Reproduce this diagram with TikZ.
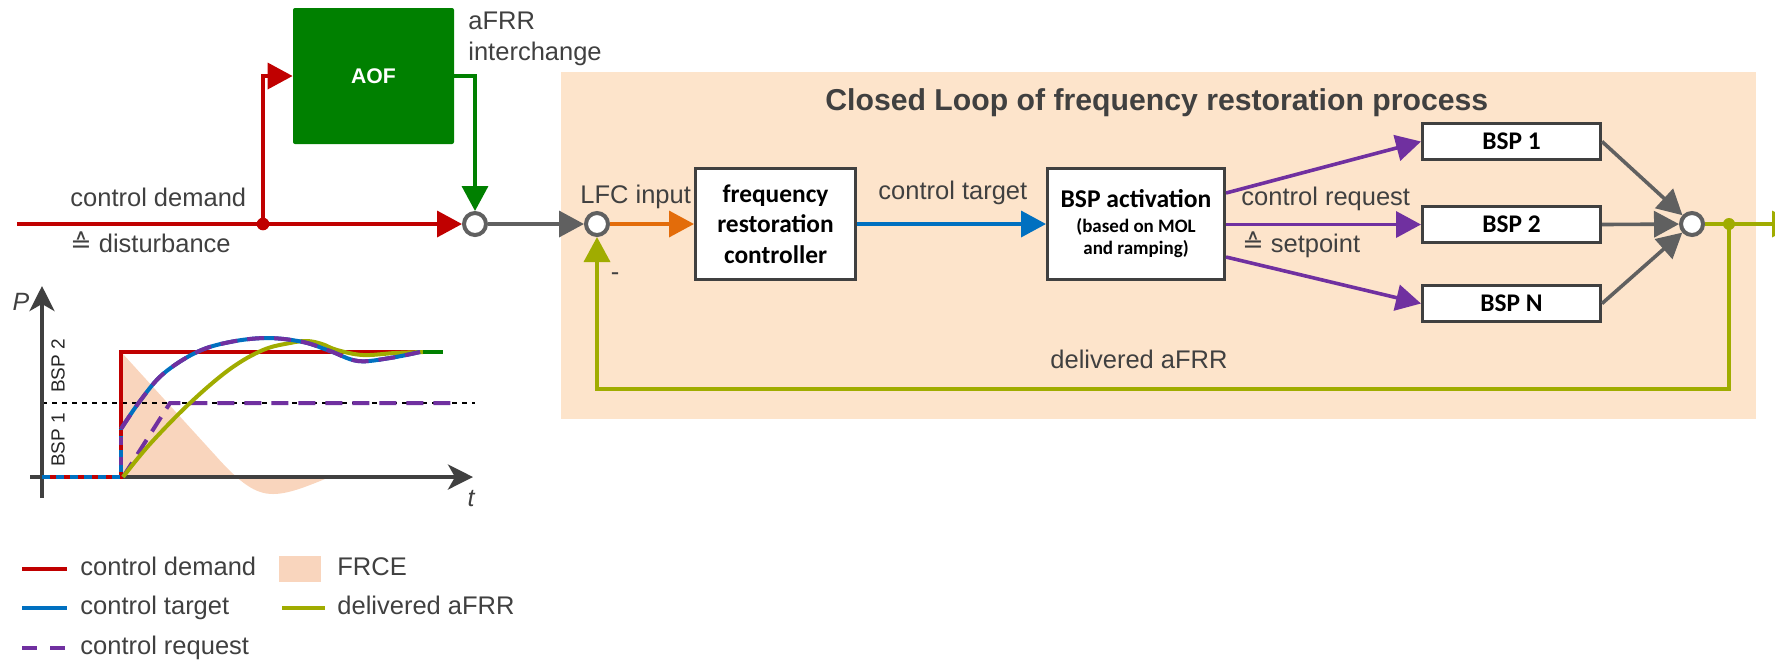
\documentclass[tikz,border=0pt]{standalone}
\usepackage{fontspec}
\setmainfont{Liberation Sans}
\newfontfamily\calibrifont{Carlito}
\newfontfamily\djvfont{DejaVu Sans}
\usetikzlibrary{arrows.meta}
\definecolor{cred}{RGB}{192,0,0}
\definecolor{cgreen}{RGB}{0,128,0}
\definecolor{cgray}{RGB}{96,96,96}
\definecolor{corange}{RGB}{227,108,10}
\definecolor{cblue}{RGB}{0,112,192}
\definecolor{cpurple}{RGB}{112,48,160}
\definecolor{colive}{RGB}{160,172,0}
\definecolor{cbg}{RGB}{253,228,203}
\definecolor{cfrce}{RGB}{249,213,189}
\definecolor{ctxt}{RGB}{64,64,64}
\definecolor{cbox}{RGB}{64,64,64}
\tikzset{
  lbl/.style={font=\fontsize{12.75}{15.5}\selectfont, text=ctxt, inner sep=0pt},
  ttl/.style={font=\bfseries\fontsize{15.1}{18}\selectfont, text=ctxt, inner sep=0pt},
  blk/.style={draw=cbox, line width=1.7pt, fill=white, inner sep=0pt, align=center,
              font=\calibrifont\bfseries\fontsize{12.7}{15.25}\selectfont},
  bspbox/.style={blk, minimum width=88.8pt, minimum height=17.8pt,
              font=\calibrifont\bfseries\fontsize{12.7}{15}\selectfont},
  aofbox/.style={fill=cgreen, rounded corners=1pt, minimum width=80.5pt, minimum height=68pt,
              inner sep=0pt, text=white, font=\bfseries\fontsize{10.6}{12}\selectfont},
  sumc/.style={circle, draw=cgray, line width=2pt, fill=white, minimum size=11pt, inner sep=0pt},
  jdot/.style={circle, minimum size=6.3pt, inner sep=0pt},
  arr/.style={-{Triangle[length=12.5pt,width=13pt]}},
  conn/.style={line width=1.8pt},
  redln/.style={conn, draw=cred, color=cred},
  grnln/.style={conn, color=cgreen},
  gryln/.style={conn, color=cgray},
  orgln/.style={conn, color=corange},
  bluln/.style={conn, color=cblue},
  purln/.style={conn, color=cpurple},
  olvln/.style={conn, color=colive},
  axisln/.style={line width=2pt, color=ctxt, -{Stealth[length=12.5pt,width=12.5pt,inset=3.5pt]}},
  crv/.style={line width=2pt},
  pdash/.style={line width=2pt, color=cpurple, dash pattern=on 8.5pt off 5pt},
}
\begin{document}
\begin{tikzpicture}[x=0.5pt,y=-0.5pt]
\useasboundingbox (0,0) rectangle (1775,661);

% ---------- closed loop background ----------
\fill[cbg] (561,72) rectangle (1756,419);
\node[ttl, anchor=base west] (title) at (825,110) {Closed Loop of frequency restoration process};

% ---------- nodes ----------
\node[aofbox] (aof) at (373.5,76) {AOF};
\node[sumc] (c1) at (475,224) {};
\node[sumc] (c2) at (597,224) {};
\node[sumc] (c3) at (1692,224) {};
\node[blk, minimum width=79.8pt, minimum height=55.3pt] (frc) at (775.5,224)
  {frequency\\restoration\\controller};
\node[blk, minimum width=88.3pt, minimum height=55.3pt,
      font=\calibrifont\bfseries\fontsize{9.5}{11}\selectfont] (act) at (1136,224)
  {{\fontsize{12.8}{12.5}\selectfont BSP activation}\\[1.5pt](based on MOL\\and ramping)};
\node[bspbox] (b1) at (1511.5,141.5) {BSP 1};
\node[bspbox] (b2) at (1511.5,224.5) {BSP 2};
\node[bspbox] (bn) at (1511.5,303.5) {BSP N};

% ---------- connectors ----------
\coordinate (src) at (17,224);
\coordinate (outR) at (1797,224);
\coordinate (fbR) at (1729,389);
\draw[redln] (src) -- (263,224);
\draw[redln, arr] (263,224) -- (c1);
\draw[redln, arr] (263,224) |- (aof.west);
\draw[grnln, arr] (aof.east) -| (c1.north);
\draw[gryln, arr] (c1) -- (c2);
\draw[orgln, arr] (c2) -- (frc);
\draw[bluln, arr] (frc) -- (act);
\draw[purln, arr] (act.east |- 0,193) -- (b1.west);
\draw[purln, arr] (act.east |- 0,224.5) -- (b2.west);
\draw[purln, arr] (act.east |- 0,257) -- (bn.west);
\draw[gryln, arr] (b1.east) -- (c3);
\draw[gryln, arr] (b2.east) -- (c3);
\draw[gryln, arr] (bn.east) -- (c3);
\draw[olvln, arr] (c3) -- (outR);
\draw[olvln, arr] (1729,224) -- (fbR) -| (c2.south);
\node[jdot, fill=cred] (j1) at (263,224) {};
\node[jdot, fill=colive, minimum size=6pt] (j2) at (1729,224) {};

% ---------- labels ----------
\node[lbl, anchor=base west] (lcd) at (70,206) {control demand};
\node[lbl, anchor=base west] (ldist) at (70,252) {{\djvfont ≙} disturbance};
\node[lbl, anchor=base west, align=left] (lafrr) at (468,60) {aFRR\\interchange};
\node[lbl, anchor=base west] (llfc) at (580,203) {LFC input};
\node[lbl] (lminus) at (615,277) {-};
\node[lbl, anchor=base west] (lct) at (878,199) {control target};
\node[lbl, anchor=base west] (lcr) at (1241,205) {control request};
\node[lbl, anchor=base west] (lsp) at (1242,252) {{\djvfont ≙} setpoint};
\node[lbl, anchor=base west] (lda) at (1050,368) {delivered aFRR};

% ---------- small chart ----------
\fill[cfrce] (123,354) -- (215,455) .. controls (240,483) and (255,494) .. (273,494)
  .. controls (290,494) and (310,485) .. (330,477) -- (123,477) -- cycle;
\draw[black, line width=0.6pt, dash pattern=on 2.5pt off 2.5pt] (42,403) -- (475,403);
\draw[axisln] (30,477) -- (473,477);
\draw[axisln] (42,498) -- (42,286);
\draw[crv, cred] (42,477) -- (121,477) -- (121,352) -- (443,352);
\draw[crv, cblue, dash pattern=on 4pt off 3pt] (42,477) -- (121,477) -- (121,429);
\draw[crv, cpurple, dash pattern=on 4pt off 6pt, dash phase=4pt] (121,477) -- (121,429);
\draw[pdash] (123,477) -- (170,403) -- (457,403);
\draw[crv, colive] plot[smooth, tension=0.6] coordinates {(123,477) (150,444) (190,403) (230,369) (263,350) (290,343) (307,341) (322,344) (337,350) (363,355) (395,353) (423,352)};
\draw[crv, cgreen] (423,352) -- (443,352);
\draw[crv, cblue] plot[smooth, tension=0.6] coordinates {(121,429) (140,401) (163,374) (197,352) (230,342) (267,338) (303,342) (330,351) (358,361) (390,358) (420,352)};
\draw[pdash] plot[smooth, tension=0.6] coordinates {(121,429) (140,401) (163,374) (197,352) (230,342) (267,338) (303,342) (330,351) (358,361) (390,358) (420,352)};
\node[font=\itshape\fontsize{12.5}{14}\selectfont, text=ctxt, inner sep=0pt] (lP) at (21,302) {P};
\node[font=\itshape\fontsize{12.5}{14}\selectfont, text=ctxt, inner sep=0pt] (lt) at (471,499) {t};
\node[font=\fontsize{9.5}{11}\selectfont, text=black!85, inner sep=0pt, rotate=90] (lb2) at (58,366) {BSP 2};
\node[font=\fontsize{9.5}{11}\selectfont, text=black!85, inner sep=0pt, rotate=90] (lb1) at (58,440) {BSP 1};

% ---------- legend ----------
\draw[crv, cred] (22,569) -- (67,569);
\node[lbl, anchor=base west] (lg1) at (80,575) {control demand};
\draw[crv, cblue] (22,608) -- (67,608);
\node[lbl, anchor=base west] (lg2) at (80,614) {control target};
\draw[crv, cpurple, dash pattern=on 7.5pt off 6.5pt] (22,648) -- (67,648);
\node[lbl, anchor=base west] (lg3) at (80,654) {control request};
\fill[cfrce] (279,556) rectangle (321,582);
\node[lbl, anchor=base west] (lg4) at (337,575) {FRCE};
\draw[crv, colive] (282,608) -- (325,608);
\node[lbl, anchor=base west] (lg5) at (337,614) {delivered aFRR};
\end{tikzpicture}
\end{document}
